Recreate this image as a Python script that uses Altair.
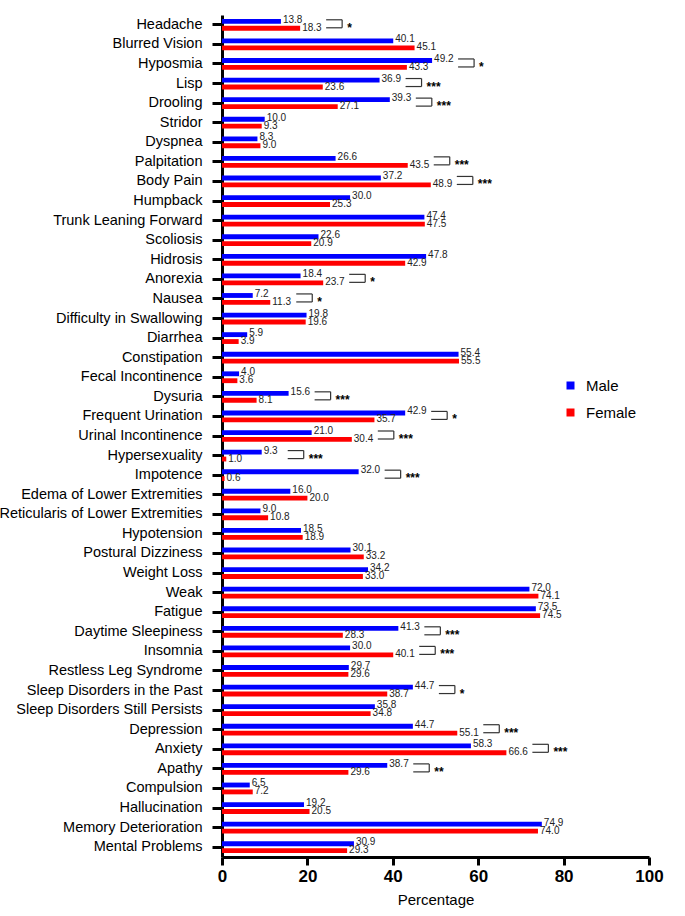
import altair as alt
import pandas as pd

categories = [
    "Headache", "Blurred Vision", "Hyposmia", "Lisp", "Drooling", "Stridor", "Dyspnea",
    "Palpitation", "Body Pain", "Humpback", "Trunk Leaning Forward", "Scoliosis", "Hidrosis",
    "Anorexia", "Nausea", "Difficulty in Swallowing", "Diarrhea", "Constipation",
    "Fecal Incontinence", "Dysuria", "Frequent Urination", "Urinal Incontinence",
    "Hypersexuality", "Impotence", "Edema of Lower Extremities",
    "Reticularis of Lower Extremities", "Hypotension", "Postural Dizziness", "Weight Loss",
    "Weak", "Fatigue", "Daytime Sleepiness", "Insomnia", "Restless Leg Syndrome",
    "Sleep Disorders in the Past", "Sleep Disorders Still Persists", "Depression", "Anxiety",
    "Apathy", "Compulsion", "Hallucination", "Memory Deterioration", "Mental Problems",
]
male = [13.8, 40.1, 49.2, 36.9, 39.3, 10.0, 8.3, 26.6, 37.2, 30.0, 47.4, 22.6, 47.8, 18.4,
        7.2, 19.8, 5.9, 55.4, 4.0, 15.6, 42.9, 21.0, 9.3, 32.0, 16.0, 9.0, 18.5, 30.1, 34.2,
        72.0, 73.5, 41.3, 30.0, 29.7, 44.7, 35.8, 44.7, 58.3, 38.7, 6.5, 19.2, 74.9, 30.9]
female = [18.3, 45.1, 43.3, 23.6, 27.1, 9.3, 9.0, 43.5, 48.9, 25.3, 47.5, 20.9, 42.9, 23.7,
          11.3, 19.6, 3.9, 55.5, 3.6, 8.1, 35.7, 30.4, 1.0, 0.6, 20.0, 10.8, 18.9, 33.2, 33.0,
          74.1, 74.5, 28.3, 40.1, 29.6, 38.7, 34.8, 55.1, 66.6, 29.6, 7.2, 20.5, 74.0, 29.3]
sig_categories = ["Headache", "Hyposmia", "Lisp", "Drooling", "Palpitation", "Body Pain",
                  "Anorexia", "Nausea", "Dysuria", "Frequent Urination", "Urinal Incontinence",
                  "Hypersexuality", "Impotence", "Daytime Sleepiness", "Insomnia",
                  "Sleep Disorders in the Past", "Depression", "Anxiety", "Apathy"]
sig_marks = ["*", "*", "***", "***", "***", "***", "*", "*", "***", "*", "***", "***", "***",
             "***", "***", "*", "***", "***", "**"]
x_ticks = [0, 20, 40, 60, 80, 100]

BLUE = "#0000ff"
RED = "#ff0000"
FONT = "Liberation Sans"

rows = []
for c, m, f in zip(categories, male, female):
    rows.append({"Symptom": c, "Sex": "Male", "Value": m})
    rows.append({"Symptom": c, "Sex": "Female", "Value": f})
df = pd.DataFrame(rows)

lookup = {c: max(m, f) for c, m, f in zip(categories, male, female)}
sig = pd.DataFrame({"Symptom": sig_categories, "Mark": sig_marks})
sig["Top"] = [lookup[c] for c in sig_categories]

y_axis = alt.Axis(domainWidth=3, domainColor="black", tickWidth=3, tickSize=10,
                  tickColor="black", labelFontSize=14.5, labelFont=FONT, labelColor="black",
                  labelPadding=10, labelLimit=400)
x_axis = alt.Axis(values=x_ticks, domainWidth=3, domainColor="black", tickWidth=3,
                  tickSize=8, tickColor="black", labelFontSize=17, labelFontWeight="bold",
                  labelFont=FONT, labelColor="black", labelPadding=3, labelFlush=False,
                  grid=False, titleFontSize=15, titleFontWeight="normal", titleFont=FONT,
                  titleColor="black", titlePadding=8)


def Y():
    return alt.Y("Symptom:N", sort=categories,
                 scale=alt.Scale(paddingInner=0.4, paddingOuter=0.2), axis=y_axis, title=None)


def X(field):
    return alt.X(f"{field}:Q", scale=alt.Scale(domain=[0, 100], nice=False), axis=x_axis,
                 title="Percentage")


bars = alt.Chart(df).mark_bar().encode(
    x=X("Value"),
    y=Y(),
    yOffset=alt.YOffset("Sex:N", sort=["Male", "Female"], scale=alt.Scale(paddingInner=0.3)),
    color=alt.Color("Sex:N", scale=alt.Scale(domain=["Male", "Female"], range=[BLUE, RED]),
                    legend=alt.Legend(title=None, orient="none", legendX=341, legendY=363,
                                      symbolType="square", symbolSize=64,
                                      symbolStrokeWidth=0, labelFontSize=15, labelFont=FONT,
                                      labelColor="black", rowPadding=11, padding=0,
                                      labelOffset=8)),
)

lab_m = alt.Chart(df).transform_filter(alt.datum.Sex == "Male").mark_text(
    align="left", baseline="middle", dx=2, dy=-5, fontSize=10, font=FONT, color="#222"
).encode(x=X("Value"), y=Y(), text=alt.Text("Value:Q", format=".1f"))

lab_f = alt.Chart(df).transform_filter(alt.datum.Sex == "Female").mark_text(
    align="left", baseline="middle", dx=2, dy=3, fontSize=10, font=FONT, color="#222"
).encode(x=X("Value"), y=Y(), text=alt.Text("Value:Q", format=".1f"))

br_top = alt.Chart(sig).mark_rule(xOffset=26, x2Offset=42, yOffset=-5, strokeWidth=1.2,
                                  color="#333").encode(x=X("Top"), x2="Top:Q", y=Y())
br_bot = alt.Chart(sig).mark_rule(xOffset=26, x2Offset=42, yOffset=3, strokeWidth=1.2,
                                  color="#333").encode(x=X("Top"), x2="Top:Q", y=Y())
br_side = alt.Chart(sig).mark_tick(xOffset=42, yOffset=-1, size=8, thickness=1.2,
                                   color="#333", opacity=1).encode(x=X("Top"), y=Y())
stars = alt.Chart(sig).mark_text(align="left", baseline="middle", dx=47, dy=3, fontSize=12,
                                 fontWeight="bold", font=FONT, color="black").encode(
    x=X("Top"), y=Y(), text="Mark:N")

chart = alt.layer(bars, lab_m, lab_f, br_top, br_bot, br_side, stars).properties(
    width=427, height=842,
    padding={"left": 222, "top": 15, "right": 36, "bottom": 59},
    autosize=alt.AutoSizeParams(type="none"),
).configure_view(stroke=None)

chart.save("out.html", embed_options={"renderer": "svg", "actions": False})
